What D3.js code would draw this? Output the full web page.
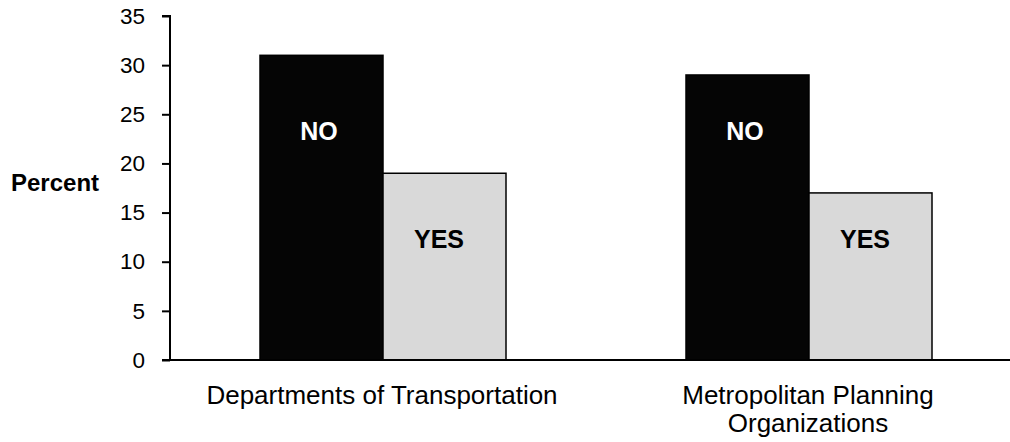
<!DOCTYPE html>
<html>
<head>
<meta charset="utf-8">
<script src="https://cdn.jsdelivr.net/npm/d3@7"></script>
<style>
  html, body { margin: 0; padding: 0; background: #fff; }
  svg { display: block; font-family: "Liberation Sans", Arial, sans-serif; }
</style>
</head>
<body>
<svg id="chart" width="1010" height="442"></svg>
<script>
// ---- data ----
const categories = ["Departments of Transportation", "Metropolitan Planning Organizations"];
const categoryLines = [["Departments of Transportation"], ["Metropolitan Planning", "Organizations"]];
const seriesNames = ["NO", "YES"];
const noValues = [31, 29];
const yesValues = [19, 17];
const yTicks = [0, 5, 10, 15, 20, 25, 30, 35];
const yLabel = "Percent";

// ---- layout ----
const svg = d3.select("#chart");
const plotLeft = 170, plotBottom = 360, plotTop = 16;
const y = d3.scaleLinear().domain([0, 35]).range([plotBottom, plotTop]);
const x0 = d3.scaleBand().domain(categories).range([plotLeft, 1022]).padding(0);
const groupW = 246;
const x1 = d3.scaleBand().domain(seriesNames).range([0, groupW]).padding(0);
const colors = { NO: "#050505", YES: "#d9d9d9" };

const rows = categories.map((c, i) => ({ cat: c, NO: noValues[i], YES: yesValues[i] }));

const g = svg.append("g");
const groups = g.selectAll("g.grp").data(rows).join("g")
  .attr("transform", d => `translate(${x0(d.cat) + x0.bandwidth() / 2 - groupW / 2},0)`);

groups.selectAll("rect").data(d => seriesNames.map(s => ({ s, v: d[s] }))).join("rect")
  .attr("x", d => x1(d.s))
  .attr("y", d => y(d.v))
  .attr("width", x1.bandwidth())
  .attr("height", d => y(0) - y(d.v))
  .attr("fill", d => colors[d.s])
  .attr("stroke", "#000")
  .attr("stroke-width", 1.5);

// in-bar labels
const labelVal = { NO: 22.4, YES: 11.4 };
const labelDx = { NO: -2.5, YES: -5.5 };
groups.selectAll("text.lab").data(seriesNames).join("text")
  .attr("class", "lab")
  .attr("x", s => x1(s) + x1.bandwidth() / 2 + labelDx[s])
  .attr("y", s => y(labelVal[s]))
  .attr("text-anchor", "middle")
  .attr("font-size", 25)
  .attr("font-weight", "bold")
  .attr("fill", s => s === "NO" ? "#fff" : "#000")
  .text(s => s);

// y axis
const yAxis = d3.axisLeft(y).tickValues(yTicks).tickSize(8).tickPadding(17);
const ya = svg.append("g").attr("transform", `translate(${plotLeft},0)`).call(yAxis);
ya.select(".domain").attr("stroke", "#000").attr("stroke-width", 2).attr("d", `M-8,${plotTop}H0V${plotBottom}`);
ya.selectAll(".tick line").attr("stroke", "#000").attr("stroke-width", 2);
ya.selectAll(".tick text").attr("font-size", 22.5).attr("fill", "#000")
  .attr("font-family", "Liberation Sans, Arial, sans-serif");

// x axis line
svg.append("line").attr("x1", plotLeft - 8).attr("x2", 1010).attr("y1", plotBottom).attr("y2", plotBottom)
  .attr("stroke", "#000").attr("stroke-width", 2);

// category labels
svg.selectAll("text.cat").data(categories).join("text")
  .attr("class", "cat")
  .attr("x", c => x0(c) + x0.bandwidth() / 2 - 1)
  .attr("y", 404)
  .attr("text-anchor", "middle")
  .attr("font-size", 26)
  .attr("fill", "#000")
  .each(function (c, i) {
    d3.select(this).selectAll("tspan").data(categoryLines[i]).join("tspan")
      .attr("x", x0(c) + x0.bandwidth() / 2 - 1)
      .attr("dy", (d, j) => j === 0 ? 0 : 28)
      .text(d => d);
  });

// y label
svg.append("text").attr("x", 11).attr("y", 191)
  .attr("font-size", 24).attr("font-weight", "bold").attr("fill", "#000")
  .text(yLabel);
</script>
</body>
</html>
